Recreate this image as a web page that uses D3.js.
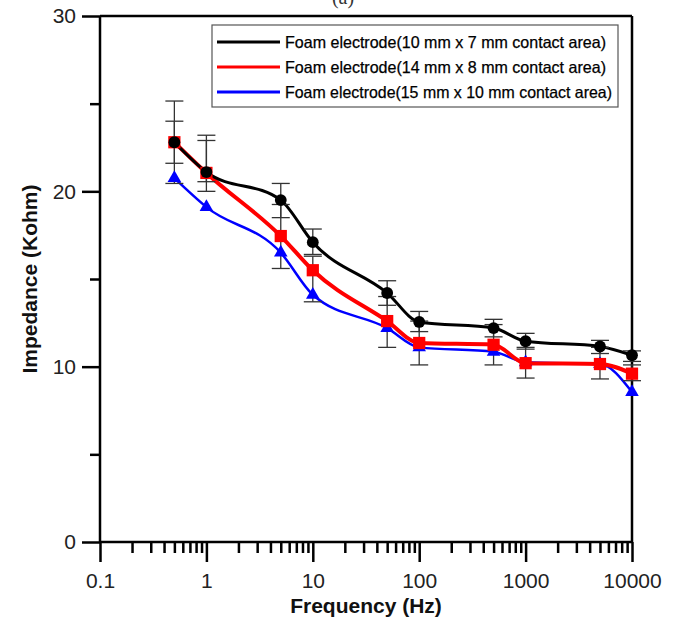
<!DOCTYPE html>
<html>
<head>
<meta charset="utf-8">
<script src="https://cdn.jsdelivr.net/npm/d3@7"></script>
<style>
  body { margin: 0; background: #fff; }
  svg { display: block; font-family: Arial, "Liberation Sans", sans-serif; }
</style>
</head>
<body>
<svg id="chart" width="686" height="619"></svg>
<script>
// data
const freqs = [0.5, 1, 5, 10, 50, 100, 500, 1000, 5000, 10000];

const black_vals = [22.8, 21.1, 19.5, 17.1, 14.2, 12.55, 12.2, 11.45, 11.15, 10.65];
const red_vals   = [22.8, 21.05, 17.45, 15.5, 12.6, 11.35, 11.25, 10.2, 10.15, 9.6];
const blue_vals  = [20.75, 19.1, 16.5, 14.1, 12.2, 11.1, 10.85, 10.25, 10.15, 8.55];

const black_err_lo = [20.45, 20.0, 18.5, 16.4, 13.5, 12.0, 11.7, 11.0, 10.75, 10.3];
const black_err_hi = [25.15, 23.2, 20.45, 17.85, 14.9, 13.15, 12.7, 11.9, 11.5, 10.9];
const red_err_lo   = [21.6, 20.55, 15.6, 13.7, 11.1, 10.1, 10.1, 9.35, 9.3, 9.2];
const red_err_hi   = [24.0, 22.9, 19.25, 16.3, 14.0, 12.6, 12.4, 11.1, 11.1, 10.1];

const legend_labels = [
    "Foam electrode(10 mm x 7 mm contact area)",
    "Foam electrode(14 mm x 8 mm contact area)",
    "Foam electrode(15 mm x 10 mm contact area)"
];

const x_major = [0.1, 1, 10, 100, 1000, 10000];
const y_major = [0, 10, 20, 30];
const y_minor = [5, 15, 25];

const m_left = 100, m_right = 632, m_top = 16, m_bottom = 542;

const svg = d3.select("#chart");

const x = d3.scaleLog().domain([0.1, 10000]).range([m_left, m_right]);
const y = d3.scaleLinear().domain([0, 30]).range([m_bottom, m_top]);

// minor log ticks 0.2..0.9 in every decade
let x_minor = [];
x_major.slice(0, -1).forEach(d => {
    for (let k = 2; k <= 9; k++) x_minor.push(d * k);
});

// title, mostly cut off at the top (as in the source figure)
svg.append("text")
    .attr("x", 343).attr("y", 4)
    .attr("text-anchor", "middle")
    .attr("font-family", "'Liberation Serif', serif")
    .attr("font-size", 20)
    .attr("fill", "#333")
    .text("(a)");

// frame: top + right
svg.append("line")
    .attr("x1", m_left).attr("x2", m_right).attr("y1", m_top).attr("y2", m_top)
    .attr("stroke", "#000").attr("stroke-width", 2.5);
svg.append("line")
    .attr("x1", m_right).attr("x2", m_right).attr("y1", m_top).attr("y2", m_bottom)
    .attr("stroke", "#000").attr("stroke-width", 2.5);

function style_axis(g) {
    g.select(".domain").remove();
    g.selectAll(".tick line").attr("stroke", "#000").attr("stroke-width", 2.5);
    g.selectAll(".tick text")
        .attr("font-size", 21)
        .attr("fill", "#222");
}

// y axis
const yMinorAxis = svg.append("g")
    .attr("transform", `translate(${m_left},0)`)
    .call(d3.axisLeft(y).tickValues(y_minor).tickSize(10).tickFormat(""));
style_axis(yMinorAxis);

const yAxis = svg.append("g")
    .attr("transform", `translate(${m_left},0)`)
    .call(d3.axisLeft(y).tickValues(y_major).tickSize(18).tickPadding(6).tickFormat(d3.format("d")));
style_axis(yAxis);

// x axis
const xMinorAxis = svg.append("g")
    .attr("transform", `translate(0,${m_bottom})`)
    .call(d3.axisBottom(x).tickValues(x_minor).tickSize(11).tickFormat(""));
style_axis(xMinorAxis);

const xAxis = svg.append("g")
    .attr("transform", `translate(0,${m_bottom})`)
    .call(d3.axisBottom(x).tickValues(x_major).tickSize(20).tickPadding(11)
        .tickFormat(d => d < 1 ? "0.1" : d3.format("d")(d)));
style_axis(xAxis);

// axis lines
svg.append("line")
    .attr("x1", m_left).attr("x2", m_left).attr("y1", m_top).attr("y2", m_bottom)
    .attr("stroke", "#000").attr("stroke-width", 2.5);
svg.append("line")
    .attr("x1", m_left).attr("x2", m_right).attr("y1", m_bottom).attr("y2", m_bottom)
    .attr("stroke", "#000").attr("stroke-width", 2.5);

// axis titles
svg.append("text")
    .attr("x", (m_left + m_right) / 2).attr("y", 613)
    .attr("text-anchor", "middle")
    .attr("font-size", 21).attr("font-weight", "bold")
    .attr("fill", "#111")
    .text("Frequency (Hz)");

svg.append("text")
    .attr("transform", `translate(37,${(m_top + m_bottom) / 2}) rotate(-90)`)
    .attr("text-anchor", "middle")
    .attr("font-size", 21).attr("font-weight", "bold")
    .attr("fill", "#111")
    .text("Impedance (Kohm)");

// series
const series = [
    { vals: black_vals, color: "#000", width: 3, shape: d3.symbolCircle, size: 110 },
    { vals: red_vals, color: "#ff0000", width: 4, shape: d3.symbolSquare, size: 150 },
    { vals: blue_vals, color: "#0000ff", width: 2.5, shape: d3.symbolTriangle, size: 80 }
];

const line = d3.line()
    .x(d => x(d[0]))
    .y(d => y(d[1]))
    .curve(d3.curveMonotoneX);

const plot = svg.append("g");

// draw back to front: blue, red, black
[2, 1, 0].forEach(i => {
    const s = series[i];
    const pts = freqs.map((f, j) => [f, s.vals[j]]);
    plot.append("path")
        .datum(pts)
        .attr("fill", "none")
        .attr("stroke", s.color)
        .attr("stroke-width", s.width)
        .attr("stroke-linejoin", "round")
        .attr("d", line);
});

// error bars
function draw_err(lo, hi) {
    const g = plot.append("g")
        .attr("stroke", "#333")
        .attr("stroke-width", 1.3);
    freqs.forEach((f, j) => {
        const cx = x(f);
        g.append("line")
            .attr("x1", cx).attr("x2", cx)
            .attr("y1", y(lo[j])).attr("y2", y(hi[j]));
        [lo[j], hi[j]].forEach(v => {
            g.append("line")
                .attr("x1", cx - 9).attr("x2", cx + 9)
                .attr("y1", y(v)).attr("y2", y(v));
        });
    });
}
draw_err(red_err_lo, red_err_hi);
draw_err(black_err_lo, black_err_hi);

// markers
[2, 1, 0].forEach(i => {
    const s = series[i];
    plot.append("g")
        .selectAll("path")
        .data(freqs.map((f, j) => [f, s.vals[j]]))
        .enter().append("path")
        .attr("transform", d => `translate(${x(d[0])},${y(d[1])})`)
        .attr("d", d3.symbol().type(s.shape).size(s.size))
        .attr("fill", s.color);
});

// legend
const legend = svg.append("g");
legend.append("rect")
    .attr("x", 212).attr("y", 25)
    .attr("width", 406).attr("height", 82)
    .attr("fill", "#fff")
    .attr("stroke", "#555")
    .attr("stroke-width", 1.2);

const legend_y = [42, 67, 92];
legend_labels.forEach((lab, i) => {
    legend.append("line")
        .attr("x1", 217).attr("x2", 280)
        .attr("y1", legend_y[i]).attr("y2", legend_y[i])
        .attr("stroke", series[i].color)
        .attr("stroke-width", 3);
    legend.append("text")
        .attr("x", 285).attr("y", legend_y[i] + 6)
        .attr("font-size", 16.5)
        .attr("fill", "#000")
        .attr("stroke", "#000")
        .attr("stroke-width", 0.25)
        .attr("textLength", i === 2 ? 327 : 321)
        .attr("lengthAdjust", "spacingAndGlyphs")
        .text(lab);
});
</script>
</body>
</html>
